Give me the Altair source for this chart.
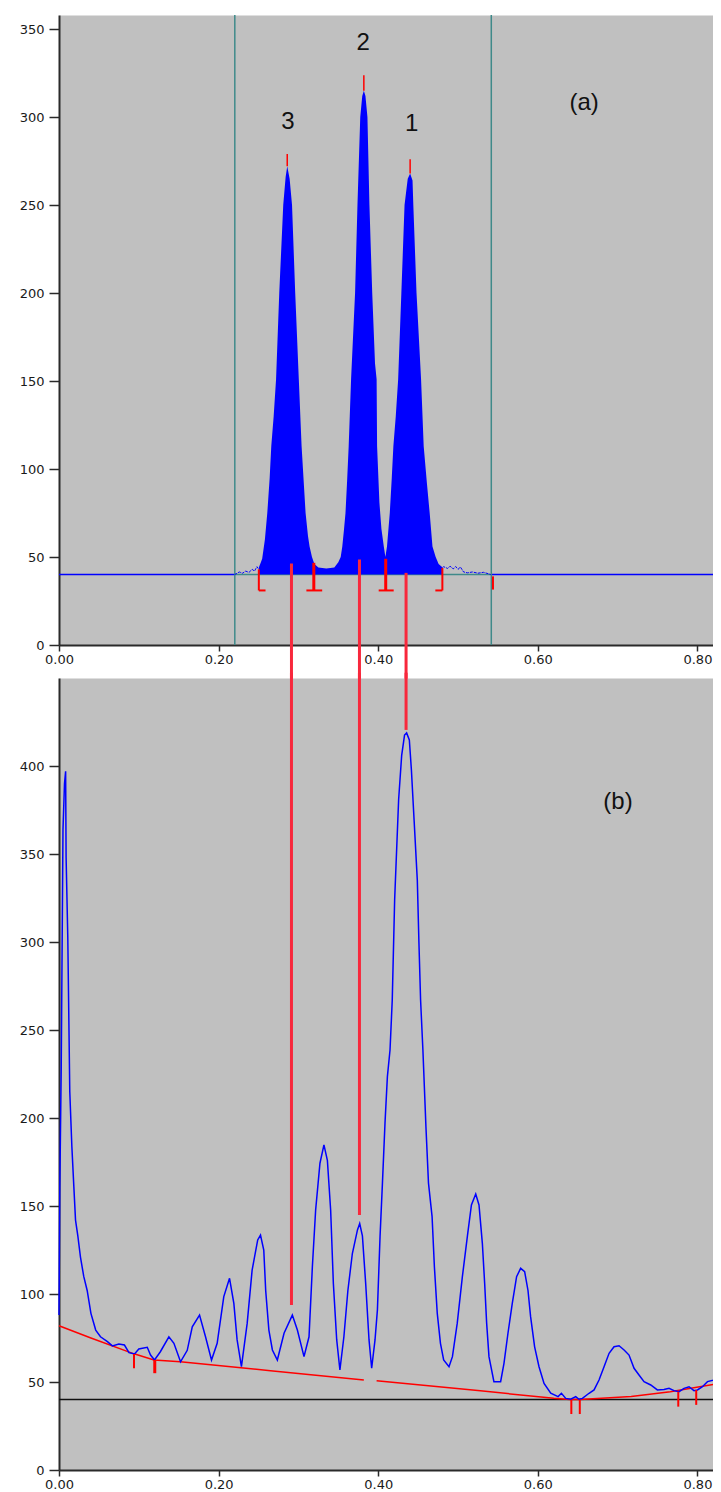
import altair as alt
import pandas as pd

# ---------------- Panel (a) data ----------------
a_wig_left_x = [0.220, 0.222, 0.226, 0.230, 0.234, 0.238, 0.242, 0.245, 0.248, 0.2504]
a_wig_left_y = [40.0, 40.5, 41.5, 40.8, 42.0, 41.2, 43.0, 42.0, 44.5, 43.0]

a_peak_x = [0.2504, 0.253, 0.2546, 0.258, 0.261, 0.264, 0.266, 0.269, 0.272, 0.276, 0.281,
            0.284, 0.286, 0.289, 0.292, 0.296, 0.3005, 0.304, 0.307, 0.309, 0.312, 0.314,
            0.317, 0.320, 0.325, 0.335, 0.345, 0.350, 0.353, 0.355, 0.357, 0.359, 0.361,
            0.363, 0.366, 0.371, 0.374, 0.3775, 0.380, 0.382, 0.384, 0.3865, 0.389, 0.3925,
            0.396, 0.398, 0.3986, 0.4015, 0.404, 0.407, 0.409, 0.411, 0.4145, 0.417, 0.419,
            0.422, 0.425, 0.429, 0.433, 0.437, 0.440, 0.443, 0.444, 0.448, 0.4537, 0.457,
            0.461, 0.4645, 0.468, 0.472, 0.4757, 0.4807]
a_peak_y = [44, 47, 49, 60, 75, 95, 113, 130, 151, 200, 250,
            266, 272, 265, 250, 200, 151, 113, 90, 75, 62, 56,
            50, 46, 44, 43.5, 44, 47, 50, 56, 65, 75, 93,
            113, 151, 200, 250, 300, 312, 315, 312, 300, 250, 200,
            160, 151, 113, 81, 66, 56, 50, 56, 75, 95, 113,
            130, 151, 200, 250, 265, 268, 264, 250, 200, 151, 113,
            92, 75, 56, 50, 46, 44]

a_wig_right_x = [0.4807, 0.482, 0.487, 0.490, 0.494, 0.497, 0.500, 0.503, 0.507, 0.512,
                 0.518, 0.525, 0.532, 0.538, 0.541]
a_wig_right_y = [44.0, 44.5, 43.5, 44.8, 43.2, 44.6, 43.0, 44.3, 41.5, 41.0,
                 41.5, 40.8, 41.3, 40.5, 40.0]

a_base_value = 40
a_blue_x1 = [0.0, 0.5417]
a_blue_x2 = [0.2203, 0.8308]
a_teal_x1 = [0.2203]
a_teal_x2 = [0.5417]

a_window_x = [0.2203, 0.5417]

a_top_x = [0.286, 0.382, 0.440]
a_top_y1 = [272, 315, 268]
a_top_y2 = [279, 323.7, 276]

a_brk_thin_x = [0.2504, 0.4804, 0.5438]
a_brk_thin_top = [43, 43.8, 39]
a_brk_thin_bot = [31, 31, 31.5]
a_brk_thick_x = [0.3193, 0.4094]
a_brk_thick_top = [46.7, 49]
a_brk_thick_bot = [31, 31]
a_brk_h_x1 = [0.2504, 0.310, 0.4006, 0.4716]
a_brk_h_x2 = [0.2588, 0.3298, 0.4194, 0.4804]
a_brk_h_y = 31

peak_labels = ["3", "2", "1"]
peak_label_x = [0.287, 0.381, 0.442]
peak_label_y = [297, 342, 296]

# connecting lines (x, start in a, end in b)
link_x = [0.2913, 0.3765, 0.4349]
link_a_top = [46.3, 48.6, 41]
link_b_end = [93.75, 144.9, 420.5]

# ---------------- Panel (b) data ----------------
b_x = [0.000, 0.001, 0.0028, 0.005, 0.0069, 0.0083, 0.0089, 0.011, 0.0135, 0.0161, 0.0186,
       0.0207, 0.0236, 0.0269, 0.031, 0.0353, 0.040, 0.046, 0.052, 0.0607, 0.0669, 0.075,
       0.082, 0.0877, 0.0947, 0.100, 0.1106, 0.1147, 0.1197, 0.127, 0.1377, 0.144, 0.1523,
       0.1607, 0.167, 0.1761, 0.1836, 0.1911, 0.1982, 0.2065, 0.2137, 0.2191, 0.2232,
       0.2286, 0.2358, 0.242, 0.249, 0.2525, 0.2566, 0.259, 0.263, 0.2674, 0.2736, 0.282,
       0.2924, 0.2987, 0.307, 0.3133, 0.3175, 0.3216, 0.327, 0.332, 0.3363, 0.3404, 0.3438,
       0.348, 0.352, 0.357, 0.362, 0.3676, 0.374, 0.3768, 0.3802, 0.3843, 0.3885, 0.3918,
       0.396, 0.399, 0.4023, 0.4053, 0.4085, 0.4115, 0.4148, 0.4176, 0.4206, 0.4256, 0.4294,
       0.433, 0.4356, 0.439, 0.4416, 0.445, 0.449, 0.451, 0.4531, 0.456, 0.4598, 0.463,
       0.4675, 0.4704, 0.474, 0.478, 0.482, 0.4887, 0.493, 0.499, 0.5055, 0.5118, 0.5168,
       0.5222, 0.5263, 0.5305, 0.5334, 0.5359, 0.5388, 0.545, 0.5534, 0.5576, 0.5626, 0.568,
       0.5734, 0.5785, 0.5835, 0.5877, 0.591, 0.596, 0.6015, 0.6078, 0.6162, 0.6254, 0.6296,
       0.635, 0.6412, 0.6475, 0.6516, 0.6559, 0.6642, 0.6705, 0.6767, 0.683, 0.6893, 0.6955,
       0.7018, 0.7081, 0.7143, 0.7206, 0.7268, 0.7331, 0.7415, 0.7498, 0.7581, 0.7644,
       0.7707, 0.777, 0.7832, 0.7895, 0.7957, 0.800, 0.8063, 0.8126, 0.820, 0.825, 0.8292]
b_y = [88, 160, 229, 364, 390, 397, 348, 303, 215, 184, 161,
       142, 133, 121, 110, 102, 89, 79.5, 75.7, 72.9, 70.5, 71.6,
       71, 66.7, 65.9, 68.8, 69.7, 65.3, 62.5, 67.2, 75.7, 72, 61.5,
       68, 81.4, 88, 75.7, 62.5, 72, 98.5, 108.9, 94.7, 73.9,
       58.7, 83.3, 113.6, 130.7, 133.5, 125, 102, 79.5, 68.2, 62.5, 77.7,
       88, 79.5, 64.4, 75.7, 115.5, 147.7, 174.3, 184.7, 176, 147.7, 106,
       73.9, 56.8, 75.7, 102, 123, 136.4, 140, 133, 106, 73.9, 57.8,
       73.9, 91, 132.6, 163, 197, 223.5, 238.6, 267, 324, 381, 406,
       417.6, 418.8, 414.8, 397.7, 369, 335, 300, 267, 238.6, 195, 163,
       144, 115.5, 89, 72, 62.5, 58.7, 64.4, 83.3, 110, 133, 150.6,
       156.8, 150.6, 128.8, 106, 83.3, 64.4, 50.2, 50.2, 60.6, 77.7, 94.7,
       109.8, 114.6, 112.7, 102, 87, 70, 58.7, 49.2, 43.6, 41.7, 43.6,
       40.7, 40.2, 41.7, 40.2, 40.7, 43.6, 45.5, 51.1, 58.7, 66.3, 70,
       70.6, 68.2, 65.3, 57.8, 54, 50.2, 48.3, 45.5, 45.8, 46.4,
       45.1, 44.5, 46.4, 47.3, 45.1, 45.5, 47.3, 50.2, 51.1, 54.9, 55]

b_red_x = [0.000, 0.040, 0.094, 0.119, 0.152, 0.228, 0.265, 0.382,
           0.398, 0.528, 0.620, 0.640, 0.653, 0.717, 0.766, 0.8308]
b_red_y = [82, 75, 66, 62.5, 61.5, 58.1, 56.4, 51.1,
           50.7, 45, 40.7, 40, 40, 41.7, 44.5, 49.4]
b_red_seg = [0, 0, 0, 0, 0, 0, 0, 0, 1, 1, 1, 1, 1, 1, 1, 1]

b_black_value = 40

b_tick_x = [0.094, 0.642, 0.6526, 0.776, 0.7985]
b_tick_top = [65.9, 39.8, 39.8, 44.5, 45.5]
b_tick_bot = [57.8, 31.8, 31.8, 36, 37]
b_tick_thick_x = [0.120]
b_tick_thick_top = [62.5]
b_tick_thick_bot = [55]

# ---------------- helpers ----------------
XMAX = 0.8308
A_YMAX = 358
B_YMAX = 450
BLUE = "#0000FF"
RED = "#FF0000"
LINK_RED = "#F8283C"
TEAL = "#3F8A8A"

xs = alt.Scale(domain=[0, XMAX], nice=False, zero=False)
x_axis = alt.Axis(values=[0, 0.2, 0.4, 0.6, 0.8], format=".2f", tickSize=6,
                  labelPadding=2, labelFlush=False, title=None, grid=False)


def X(field="x"):
    return alt.X(f"{field}:Q", scale=xs, axis=x_axis)


def ya(field="y"):
    return alt.Y(f"{field}:Q", scale=alt.Scale(domain=[0, A_YMAX], nice=False),
                 axis=alt.Axis(values=list(range(0, 351, 50)), tickSize=10, labelPadding=5,
                               minExtent=50, maxExtent=50, title=None, grid=False))


def yb(field="y"):
    return alt.Y(f"{field}:Q", scale=alt.Scale(domain=[0, B_YMAX], nice=False),
                 axis=alt.Axis(values=list(range(0, 401, 50)), tickSize=10, labelPadding=5,
                               minExtent=50, maxExtent=50, title=None, grid=False))


def hrules(x1, x2, yv, y_enc, color, width):
    df = pd.DataFrame({"x": x1, "x2": x2, "y": [yv] * len(x1)})
    return alt.Chart(df).mark_rule(color=color, strokeWidth=width).encode(
        x=X(), x2="x2:Q", y=y_enc())


def vrules(xv, y1, y2, y_enc, color, width):
    df = pd.DataFrame({"x": xv, "y": y1, "y2": y2})
    return alt.Chart(df).mark_rule(color=color, strokeWidth=width).encode(
        x=X(), y=y_enc(), y2="y2:Q")


# ---------------- Panel (a) ----------------
blue_base_a = hrules(a_blue_x1, a_blue_x2, a_base_value, ya, BLUE, 1.5)
teal_base_a = hrules(a_teal_x1, a_teal_x2, a_base_value, ya, TEAL, 1.5)
win_a = vrules(a_window_x, [0, 0], [A_YMAX, A_YMAX], ya, TEAL, 1.5)

df_area = pd.DataFrame({"x": a_peak_x, "y": a_peak_y})
area_a = alt.Chart(df_area).mark_area(color=BLUE, opacity=1).encode(
    x=X(), y=ya(), y2=alt.Y2Datum(a_base_value))

df_wig = pd.DataFrame({"x": a_wig_left_x + a_wig_right_x,
                       "y": a_wig_left_y + a_wig_right_y,
                       "s": ["l"] * len(a_wig_left_x) + ["r"] * len(a_wig_right_x)})
wig_a = alt.Chart(df_wig).mark_line(color=BLUE, strokeWidth=1, strokeDash=[3, 1]).encode(
    x=X(), y=ya(), detail="s:N")

top_a = vrules(a_top_x, a_top_y1, a_top_y2, ya, RED, 1.5)
bthin_a = vrules(a_brk_thin_x, a_brk_thin_top, a_brk_thin_bot, ya, RED, 2)
bthick_a = vrules(a_brk_thick_x, a_brk_thick_top, a_brk_thick_bot, ya, RED, 3)
bh_a = hrules(a_brk_h_x1, a_brk_h_x2, a_brk_h_y, ya, RED, 2)
link_a = vrules(link_x, link_a_top, [-19.5] * 3, ya, LINK_RED, 3)

df_lab = pd.DataFrame({"x": peak_label_x, "y": peak_label_y, "t": peak_labels})
lab_a = alt.Chart(df_lab).mark_text(font="Liberation Sans", fontSize=24, color="#111111",
                                    baseline="middle", align="center").encode(
    x=X(), y=ya(), text="t:N")

df_ta = pd.DataFrame({"x": [0.658], "y": [308], "t": ["(a)"]})
ta = alt.Chart(df_ta).mark_text(font="Liberation Sans", fontSize=24, color="#111111",
                                baseline="middle", align="center").encode(
    x=X(), y=ya(), text="t:N")

panel_a = alt.layer(blue_base_a, teal_base_a, win_a, area_a, wig_a, top_a, link_a,
                    bthin_a, bthick_a, bh_a, lab_a, ta).properties(width=663, height=630)

# ---------------- Panel (b) ----------------
black_b = hrules([0], [XMAX], b_black_value, yb, "#111111", 1.5)

df_red = pd.DataFrame({"x": b_red_x, "y": b_red_y, "s": b_red_seg})
red_b = alt.Chart(df_red).mark_line(color=RED, strokeWidth=1.5).encode(
    x=X(), y=yb(), detail="s:N")

df_prof = pd.DataFrame({"x": b_x, "y": b_y})
prof_b = alt.Chart(df_prof).mark_line(color=BLUE, strokeWidth=1.5).encode(
    x=X(), y=yb())

tick_b = vrules(b_tick_x, b_tick_top, b_tick_bot, yb, RED, 2)
tick2_b = vrules(b_tick_thick_x, b_tick_thick_top, b_tick_thick_bot, yb, RED, 3)
link_b = vrules(link_x, link_b_end, [453] * 3, yb, LINK_RED, 3)

df_tb = pd.DataFrame({"x": [0.7005], "y": [379.5], "t": ["(b)"]})
tb = alt.Chart(df_tb).mark_text(font="Liberation Sans", fontSize=24, color="#111111",
                                baseline="middle", align="center").encode(
    x=X(), y=yb(), text="t:N")

panel_b = alt.layer(black_b, red_b, prof_b, tick_b, tick2_b, link_b, tb
                    ).properties(width=663, height=792)

chart = alt.vconcat(panel_a, panel_b, spacing=33, bounds="flush").properties(
    padding={"left": 0, "top": 5, "right": -13, "bottom": 0},
    background="white"
).configure_view(
    fill="#C0C0C0", stroke="transparent"
).configure_axis(
    domainColor="#2a2a2a", domainWidth=2, tickColor="#2a2a2a", tickWidth=1.5,
    labelFont="DejaVu Sans", labelFontSize=13, labelColor="#1a1a1a", grid=False
)

chart.save("out.html", embed_options={"renderer": "svg", "actions": False})
